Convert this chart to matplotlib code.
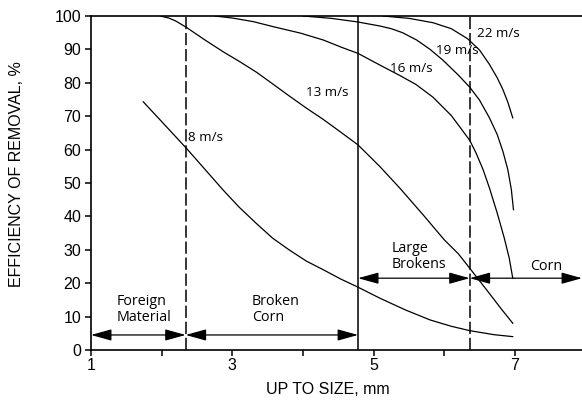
import matplotlib
matplotlib.use("Agg")
import matplotlib.pyplot as plt

# efficiency of removal vs. screen size, one curve per air velocity
x_8 = [1.74, 2.0, 2.35, 2.6, 2.87, 3.1, 3.34, 3.57, 3.81, 4.05, 4.29, 4.53, 4.78,
       5.09, 5.45, 5.8, 6.1, 6.36, 6.7, 6.97]
y_8 = [74.3, 68.4, 60.4, 54.4, 47.9, 42.7, 37.9, 33.5, 29.9, 26.6, 24.0, 21.3, 18.8,
       15.5, 12.0, 9.0, 7.1, 5.8, 4.6, 4.0]

x_13 = [1.98, 2.1, 2.2, 2.35, 2.6, 2.87, 3.1, 3.34, 3.57, 3.81, 4.05, 4.29, 4.53, 4.78,
        5.09, 5.37, 5.7, 6.0, 6.2, 6.36, 6.6, 6.8, 6.97]
y_13 = [100, 99.4, 98.5, 96.6, 93.0, 89.3, 86.4, 83.2, 79.7, 76.0, 72.4, 69.0, 65.3, 61.4,
        54.9, 48.5, 40.5, 33.0, 28.8, 24.5, 18.0, 12.5, 8.0]

x_16 = [2.75, 3.0, 3.3, 3.58, 3.96, 4.29, 4.55, 4.78, 5.09, 5.37, 5.6, 5.84, 6.1, 6.36,
        6.45, 6.55, 6.64, 6.75, 6.85, 6.92, 6.97]
y_16 = [100, 99.4, 98.3, 96.8, 94.9, 92.8, 90.6, 88.8, 85.3, 82.2, 79.5, 75.7, 70.2, 62.8,
        59.0, 54.0, 48.5, 41.0, 33.5, 27.5, 21.5]

x_19 = [4.0, 4.4, 4.78, 5.09, 5.25, 5.41, 5.61, 5.8, 5.98, 6.2, 6.36, 6.5, 6.64, 6.75,
        6.83, 6.9, 6.95, 6.98]
y_19 = [100, 99.3, 98.2, 97.0, 96.2, 95.0, 92.8, 90.0, 86.8, 82.3, 78.7, 74.8, 69.5, 64.5,
        59.5, 54.0, 48.0, 42.0]

x_22 = [5.13, 5.5, 5.84, 6.1, 6.33, 6.5, 6.64, 6.75, 6.83, 6.9, 6.97]
y_22 = [100, 99.3, 98.0, 96.2, 93.2, 89.8, 85.5, 81.5, 78.0, 74.2, 69.5]

curves = [(x_8, y_8), (x_13, y_13), (x_16, y_16), (x_19, y_19), (x_22, y_22)]
curve_labels = ["8 m/s", "13 m/s", "16 m/s", "19 m/s", "22 m/s"]
label_pos = [(2.37, 63.5), (4.04, 77), (5.23, 84.3), (5.89, 89.8), (6.46, 94.9)]

# size class boundaries, mm
bounds = [2.34, 4.78, 6.36]
bound_dashed = [True, False, True]

# size class ranges (start, end, arrow height) and their names
classes = [(1.0, 2.34, 4.5), (2.34, 4.78, 4.5), (4.78, 6.36, 21.5), (6.36, 7.95, 21.5)]
class_names = ["Foreign\nMaterial", "Broken\nCorn", "Large\nBrokens", "Corn"]
class_text_pos = [(1.36, 12), (3.28, 12), (5.26, 28.1), (7.21, 24.9)]

fig = plt.figure(figsize=(5.82, 4.01), dpi=100)
ax = fig.add_axes([91 / 582, 51 / 401, 491 / 582, 334 / 401])

for (xs, ys) in curves:
    ax.plot(xs, ys, color="black", lw=0.9, solid_joinstyle="round")

for (lx, ly), txt in zip(label_pos, curve_labels):
    ax.text(lx, ly, txt, fontsize=9.7, family="Open Sans", va="center", ha="left")

for b, dashed in zip(bounds, bound_dashed):
    if dashed:
        ax.plot([b, b], [0, 100], color="black", lw=1.1, ls="--", dashes=(8, 2.5))
    else:
        ax.plot([b, b], [0, 100], color="black", lw=1.1)

for (x0, x1, yy) in classes:
    ax.annotate("", xy=(x1, yy), xytext=(x0, yy),
                arrowprops=dict(arrowstyle="<|-|>,head_length=0.9,head_width=0.25",
                                color="black", lw=0.9, shrinkA=0, shrinkB=0,
                                mutation_scale=14))

for (tx, ty), txt in zip(class_text_pos, class_names):
    ax.text(tx, ty, txt, fontsize=10.3, family="Open Sans", va="center", ha="left",
            linespacing=1.1)

ax.set_xlim(1, 7.95)
ax.set_ylim(0, 100)
ax.set_xticks([1, 3, 5, 7])
ax.set_xticks([2, 4, 6], minor=True)
ax.set_yticks(range(0, 101, 10))
ax.tick_params(axis="both", which="both", direction="out", length=4, width=1.1)
ax.tick_params(axis="x", labelsize=11.5, pad=2)
ax.tick_params(axis="y", labelsize=11.5, pad=3)
for lab in ax.get_xticklabels() + ax.get_yticklabels():
    lab.set_family("Liberation Sans")

ax.spines["right"].set_visible(False)
for s in ["left", "bottom", "top"]:
    ax.spines[s].set_linewidth(1.2)

fig.text(17 / 582, 1 - 174 / 401, "EFFICIENCY OF REMOVAL, %", rotation=90,
         ha="center", va="center", fontsize=11.5, family="Liberation Sans")
fig.text(328 / 582, 1 - 389 / 401, "UP TO SIZE, mm", ha="center", va="center",
         fontsize=11.5, family="Liberation Sans")

fig.savefig("out.png", dpi=100)
